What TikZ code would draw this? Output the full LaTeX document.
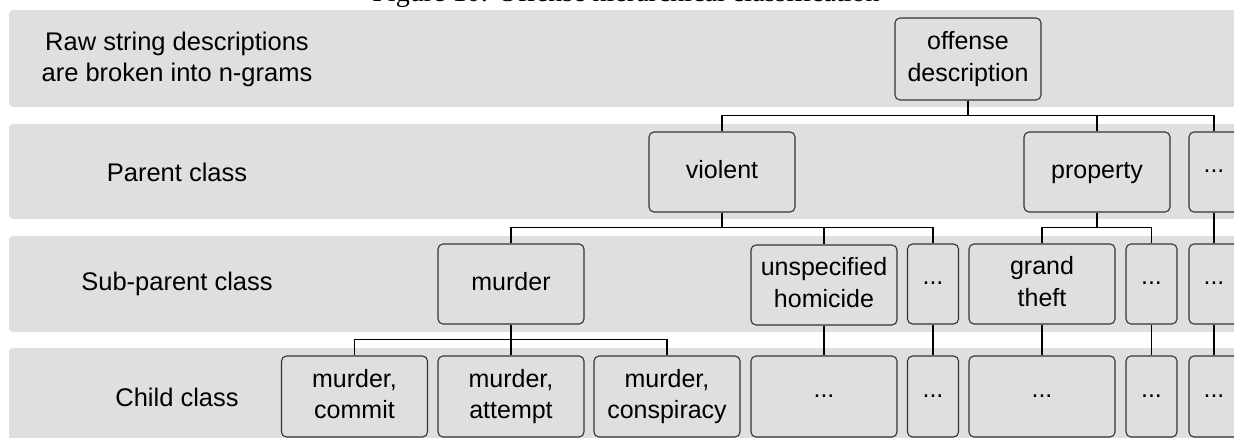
\documentclass[tikz,border=0pt]{standalone}
\usepackage{fontspec}
\setmainfont{Liberation Sans}
\newfontfamily\capfont{Liberation Serif}
\definecolor{bandgray}{HTML}{DFDFDF}
\definecolor{boxline}{HTML}{333333}
\newcommand{\myst}{\strut}
\newcommand{\mydots}{\strut\raisebox{5.5pt}{...}}
\tikzset{
  band/.style={fill=bandgray, draw=none, rounded corners=4pt},
  nbox/.style={draw=boxline, fill=bandgray, line width=1.1pt, rounded corners=5pt,
    minimum height=80pt, inner sep=0pt, align=center,
    font=\fontsize{25}{31.5}\selectfont},
  wide/.style={nbox, minimum width=146pt},
  narrow/.style={nbox, minimum width=51pt},
  lvl/.style={align=center, inner sep=0pt, font=\fontsize{25.5}{31.5}\selectfont},
  conn/.style={draw=black, line width=1.3pt},
}
\begin{document}
\begin{tikzpicture}[x=1pt, y=-1pt]
\useasboundingbox (0,0) rectangle (1234,438);
% caption (cut off at the top)
\node[anchor=base, inner sep=0pt, font=\capfont\fontsize{28}{30}\selectfont] (cap) at (626,2) {Figure 10: Offense hierarchical classification};
% bands
\fill[band] (9,10) rectangle (1260,107);
\fill[band] (9,124) rectangle (1260,219);
\fill[band] (9,236) rectangle (1260,332);
\fill[band] (9,348) rectangle (1260,460);
% level labels
\node[lvl] (l1) at (177,59.5) {\myst Raw string descriptions\\\myst are broken into n-grams};
\node[lvl] (l2) at (177,175) {\myst Parent class};
\node[lvl] (l3) at (177,284) {\myst Sub-parent class};
\node[lvl] (l4) at (177,400) {\myst Child class};
% level 1
\node[wide, minimum height=82pt] (off) at (968,59) {\myst offense\\\myst description};
% level 2
\node[wide] (vio) at (722,172) {\myst violent};
\node[wide] (pro) at (1097,172) {\myst property};
\node[narrow, minimum width=50pt] (pd) at (1214,172) {\mydots};
% level 3
\node[wide] (mur) at (511,284) {\myst murder};
\node[wide] (uns) at (824,285) {\myst unspecified\\\myst homicide};
\node[narrow] (sa) at (933,284) {\mydots};
\node[wide] (gra) at (1042,284) {\myst grand\\\myst theft};
\node[narrow] (sb) at (1151.5,284) {\mydots};
\node[narrow, minimum width=50pt] (sc) at (1214,284) {\mydots};
% level 4
\node[wide, minimum height=81pt] (com) at (354.5,396.5) {\myst murder,\\\myst commit};
\node[wide, minimum height=81pt] (att) at (511,396.5) {\myst murder,\\\myst attempt};
\node[wide, minimum height=81pt] (con) at (667,396.5) {\myst murder,\\\myst conspiracy};
\node[wide, minimum height=81pt] (cu) at (824,396.5) {\mydots};
\node[narrow, minimum height=81pt] (ca) at (933,396.5) {\mydots};
\node[wide, minimum height=81pt] (cg) at (1042,396.5) {\mydots};
\node[narrow, minimum height=81pt] (cb) at (1151.5,396.5) {\mydots};
\node[narrow, minimum width=50pt, minimum height=81pt] (cc) at (1214,396.5) {\mydots};
% connectors
\path[conn] (off.south) -- ++(0,15) -| (vio.north);
\path[conn] (off.south) -- ++(0,15) -| (pro.north);
\path[conn] (off.south) -- ++(0,15) -| (pd.north);
\path[conn] (vio.south) -- ++(0,15) -| (mur.north);
\path[conn] (vio.south) -- ++(0,15) -| (uns.north);
\path[conn] (vio.south) -- ++(0,15) -| (sa.north);
\path[conn] (pro.south) -- ++(0,15) -| (gra.north);
\path[conn] (pro.south) -- ++(0,15) -| (sb.north);
\path[conn] (pd.south) -- (sc.north);
\path[conn] (mur.south) -- ++(0,15) -| (com.north);
\path[conn] (mur.south) -- (att.north);
\path[conn] (mur.south) -- ++(0,15) -| (con.north);
\path[conn] (uns.south) -- (cu.north);
\path[conn] (sa.south) -- (ca.north);
\path[conn] (gra.south) -- (cg.north);
\path[conn] (sb.south) -- (cb.north);
\path[conn] (sc.south) -- (cc.north);
\end{tikzpicture}
\end{document}
